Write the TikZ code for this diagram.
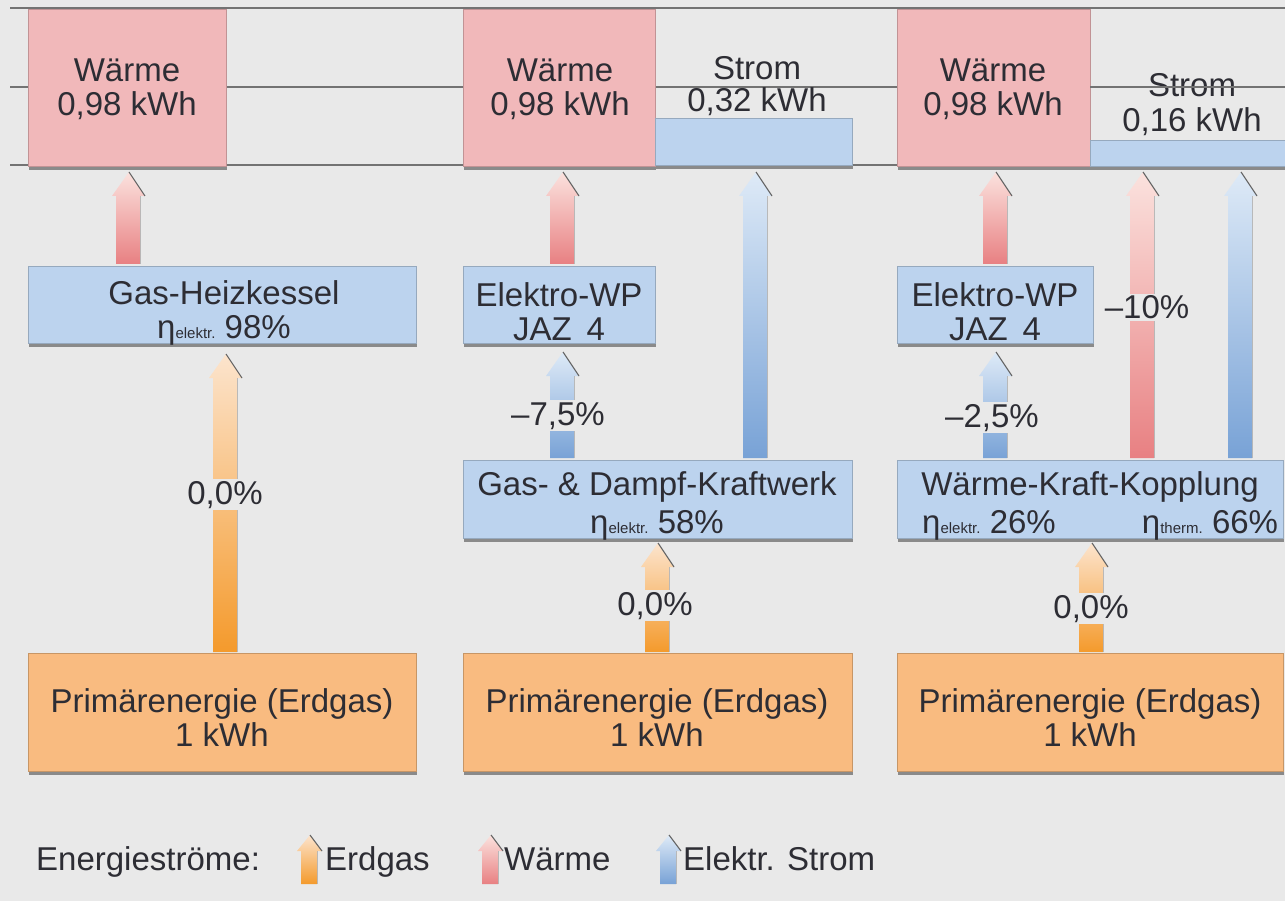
\documentclass[tikz,border=0pt]{standalone}
\usepackage{fontspec}
\setmainfont{Liberation Sans}
\usetikzlibrary{shadows}
\definecolor{bg}{RGB}{233,233,233}
\definecolor{gline}{RGB}{115,115,115}
\definecolor{pinkbox}{RGB}{241,184,186}
\definecolor{bluebox}{RGB}{188,211,238}
\definecolor{orangebox}{RGB}{249,187,128}
\definecolor{txt}{RGB}{45,45,52}
\definecolor{orP}{RGB}{252,228,205}
\definecolor{orD}{RGB}{244,154,44}
\definecolor{rdP}{RGB}{251,226,222}
\definecolor{rdD}{RGB}{232,128,130}
\definecolor{blP}{RGB}{222,234,247}
\definecolor{blD}{RGB}{120,162,214}
\newcommand\etasub[1]{η{\fontsize{15}{16}\selectfont #1}}
% x, tip y, bottom y, half width, top colour, middle colour, bottom colour
\newcommand\flowarr[7]{%
  \shade[top color=#5, middle color=#6, bottom color=#7]
    (#1-#4,#3) -- (#1-#4,#2+2*#4) -- (#1-#4-4,#2+2*#4) -- (#1+1,#2)
    -- (#1+#4+5,#2+2*#4) -- (#1+#4,#2+2*#4) -- (#1+#4,#3) -- cycle;
  \draw[headline] (#1+1,#2) -- (#1+#4+5,#2+2*#4);
  \draw[edgeline] (#1+#4,#2+2*#4) -- (#1+#4,#3);
}
\begin{document}
\begin{tikzpicture}[x=1pt,y=-1pt,
  box/.style={draw=#1!80!black, line width=0.7pt, fill=#1, rectangle,
    anchor=north west, inner sep=0pt,
    drop shadow={shadow xshift=0.5pt, shadow yshift=-4pt, fill=black!50, opacity=0.9}},
  lab/.style={anchor=base, inner sep=0pt, text=txt, font=\fontsize{33}{34}\selectfont},
  flab/.style={lab, fill=bg, inner sep=2pt},
  headline/.style={draw=black!60, line width=1.1pt},
  edgeline/.style={draw=black!35, line width=1pt, opacity=0.7},
  hline/.style={draw=gline, line width=1.6pt}]

\fill[bg] (0,0) rectangle (1285,901);
\useasboundingbox (0,0) rectangle (1285,901);

% horizontal scale lines
\coordinate (l1a) at (10,8);   \coordinate (l1b) at (1285,8);
\coordinate (l2a) at (10,87);  \coordinate (l2b) at (1285,87);
\coordinate (l3a) at (10,165); \coordinate (l3b) at (1285,165);
\draw[hline] (l1a) -- (l1b);
\draw[hline] (l2a) -- (l2b);
\draw[hline] (l3a) -- (l3b);

% ---------- column 1 ----------
\node[box=pinkbox, minimum width=198, minimum height=157] (w1) at (28,9) {};
\node[lab] (w1a) at (127,82) {Wärme};
\node[lab] (w1b) at (127,116) {0,98 kWh};

\node[box=bluebox, minimum width=388, minimum height=77] (gh) at (28,266) {};
\node[lab] (gha) at (224,305) {Gas-Heizkessel};
\node[lab] (ghb) at (224,338) {\etasub{elektr.}~98\%};

\node[box=orangebox, minimum width=388, minimum height=118] (p1) at (28,653) {};
\node[lab] (p1a) at (222,712) {Primärenergie (Erdgas)};
\node[lab] (p1b) at (222,746) {1 kWh};

\flowarr{128}{172}{264}{12}{rdP}{rdD!60!rdP}{rdD}
\flowarr{225}{354}{652}{12}{orP}{orD}{orD}
\node[flab] (g1) at (225,504) {0,0\%};

% ---------- column 2 ----------
\node[box=pinkbox, minimum width=192, minimum height=157] (w2) at (463,9) {};
\node[lab] (w2a) at (560,82) {Wärme};
\node[lab] (w2b) at (560,116) {0,98 kWh};

\node[box=bluebox, minimum width=197, minimum height=47] (s2) at (655,118) {};
\node[lab] (s2a) at (757,80) {Strom};
\node[lab] (s2b) at (757,112) {0,32 kWh};

\node[box=bluebox, minimum width=192, minimum height=77] (e2) at (463,266) {};
\node[lab] (e2a) at (559,307) {Elektro-WP};
\node[lab] (e2b) at (559,340) {JAZ\hspace{0.45em}4};

\node[box=bluebox, minimum width=389, minimum height=78] (gd) at (463,460) {};
\node[lab] (gda) at (657,495) {Gas- \& Dampf-Kraftwerk};
\node[lab] (gdb) at (657,533) {\etasub{elektr.}~58\%};

\node[box=orangebox, minimum width=389, minimum height=118] (p2) at (463,653) {};
\node[lab] (p2a) at (657,712) {Primärenergie (Erdgas)};
\node[lab] (p2b) at (657,746) {1 kWh};

\flowarr{562}{172}{264}{12}{rdP}{rdD!60!rdP}{rdD}
\flowarr{755}{172}{458}{12}{blP}{blD!55!blP}{blD}
\flowarr{562}{352}{458}{12}{blP}{blD}{blD}
\node[flab] (b2) at (558,425) {--7,5\%};
\flowarr{657}{543}{652}{12}{orP}{orD}{orD}
\node[flab] (g2) at (655,615) {0,0\%};

% ---------- column 3 ----------
\node[box=pinkbox, minimum width=193, minimum height=157] (w3) at (897,9) {};
\node[lab] (w3a) at (993,82) {Wärme};
\node[lab] (w3b) at (993,116) {0,98 kWh};

\node[box=bluebox, minimum width=196, minimum height=26] (s3) at (1090,140) {};
\node[lab] (s3a) at (1192,97) {Strom};
\node[lab] (s3b) at (1192,132) {0,16 kWh};
\draw[hline] (l2a -| s3.west) -- (l2b);

\node[box=bluebox, minimum width=196, minimum height=77] (e3) at (897,266) {};
\node[lab] (e3a) at (995,307) {Elektro-WP};
\node[lab] (e3b) at (995,340) {JAZ\hspace{0.45em}4};

\node[box=bluebox, minimum width=386, minimum height=78] (wk) at (897,460) {};
\node[lab] (wka) at (1090,495) {Wärme-Kraft-Kopplung};
\node[lab] (wkb) at (989,533) {\etasub{elektr.}~26\%};
\node[lab] (wkc) at (1210,533) {\etasub{therm.}~66\%};

\node[box=orangebox, minimum width=386, minimum height=118] (p3) at (897,653) {};
\node[lab] (p3a) at (1090,712) {Primärenergie (Erdgas)};
\node[lab] (p3b) at (1090,746) {1 kWh};

\flowarr{995}{172}{264}{12}{rdP}{rdD!60!rdP}{rdD}
\flowarr{1142}{172}{458}{12}{rdP}{rdD!55!rdP}{rdD}
\node[flab] (r3) at (1147,319) {--10\%};
\flowarr{1240}{172}{458}{12}{blP}{blD!55!blP}{blD}
\flowarr{995}{352}{458}{12}{blP}{blD}{blD}
\node[flab] (b3) at (992,427) {--2,5\%};
\flowarr{1091}{543}{652}{12}{orP}{orD}{orD}
\node[flab] (g3) at (1091,618) {0,0\%};

% ---------- legend ----------
\node[lab, anchor=base west] (leg) at (36,870) {Energieströme:};
\flowarr{309}{835}{884}{8}{orP}{orD}{orD}
\node[lab, anchor=base west] (leg1) at (325,870) {Erdgas};
\flowarr{490}{835}{884}{8}{rdP}{rdD}{rdD}
\node[lab, anchor=base west] (leg2) at (504,870) {Wärme};
\flowarr{668}{835}{884}{8}{blP}{blD}{blD}
\node[lab, anchor=base west] (leg3) at (683,870) {Elektr. Strom};
\end{tikzpicture}
\end{document}
